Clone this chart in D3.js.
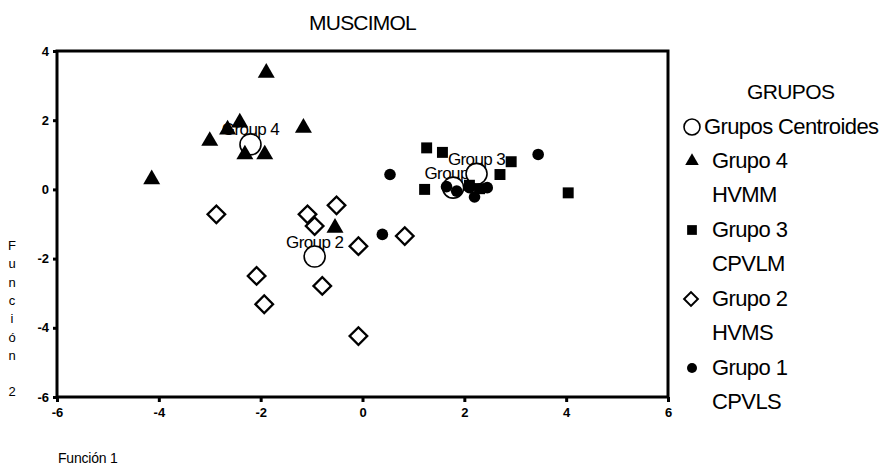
<!DOCTYPE html>
<html lang="es">
  <head>
    <meta charset="utf-8" />
    <title>MUSCIMOL</title>
    <script src="https://d3js.org/d3.v7.min.js"></script>
    <style>
      body {
        margin: 0;
        background: #fff;
      }
      text {
        font-family: "Liberation Sans", Arial, sans-serif;
        fill: #000;
      }
      .axis .domain {
        stroke-width: 0;
      }
      .axis .tick line {
        stroke: #000;
        stroke-width: 3;
      }
      .axis .tick text {
        font-size: 13px;
        font-weight: bold;
      }
    </style>
  </head>
  <body>
    <svg width="887" height="466"></svg>
    <script type="text/javascript">
      // values: [Función 1, Función 2]
      const grupo1 = [
        [0.54, 0.43], [3.45, 1.01], [0.39, -1.3], [1.65, 0.08],
        [2.1, 0.05], [2.2, -0.22], [2.45, 0.05], [1.85, -0.05],
      ];
      const grupo2 = [
        [-2.87, -0.72], [-1.08, -0.72], [-0.51, -0.46], [-0.94, -1.06],
        [-0.08, -1.64], [0.83, -1.35], [-2.08, -2.5], [-1.93, -3.32],
        [-0.79, -2.79], [-0.08, -4.24],
      ];
      const grupo3 = [
        [1.26, 1.2], [1.57, 1.07], [2.92, 0.8], [2.7, 0.43],
        [1.22, 0.0], [4.04, -0.1], [2.1, 0.12], [2.3, 0.02],
      ];
      const grupo4 = [
        [-1.89, 3.37], [-2.41, 1.93], [-2.65, 1.73], [-3.0, 1.4],
        [-1.16, 1.78], [-2.31, 1.01], [-1.92, 1.01], [-4.14, 0.29],
        [-0.54, -1.11],
      ];
      const centroidNames = ["Group 1", "Group 2", "Group 3", "Group 4"];
      const centroidX = [1.78, -0.94, 2.24, -2.2];
      const centroidY = [0.05, -1.94, 0.45, 1.3];

      const xTicks = [-6, -4, -2, 0, 2, 4, 6];
      const yTicks = [-6, -4, -2, 0, 2, 4];

      const legendTitle = "GRUPOS";
      const legendLines = [
        ["Grupos Centroides"],
        ["Grupo 4", "HVMM"],
        ["Grupo 3", "CPVLM"],
        ["Grupo 2", "HVMS"],
        ["Grupo 1", "CPVLS"],
      ];

      const svg = d3.select("svg");
      const margin = { top: 51, right: 219, bottom: 69, left: 57 };
      const width = 887;
      const height = 466;

      const x = d3
        .scaleLinear()
        .domain([-6, 6])
        .range([margin.left, width - margin.right]);
      const y = d3
        .scaleLinear()
        .domain([-6, 4])
        .range([height - margin.bottom, margin.top]);

      // title
      svg
        .append("text")
        .attr("x", x(0))
        .attr("y", 30)
        .attr("text-anchor", "middle")
        .attr("font-size", "21px")
        .attr("letter-spacing", "-0.8px")
        .text("MUSCIMOL");

      // axes
      svg
        .append("g")
        .attr("class", "axis")
        .attr("transform", `translate(0,${y(-6)})`)
        .call(
          d3.axisBottom(x).tickValues(xTicks).tickSize(5).tickPadding(6)
            .tickFormat((d) => String(d))
        );
      svg
        .append("g")
        .attr("class", "axis")
        .attr("transform", `translate(${x(-6)},0)`)
        .call(
          d3.axisLeft(y).tickValues(yTicks).tickSize(4).tickPadding(4)
            .tickFormat((d) => String(d))
        );

      // frame
      svg
        .append("rect")
        .attr("x", x(-6))
        .attr("y", y(4))
        .attr("width", x(6) - x(-6))
        .attr("height", y(-6) - y(4))
        .attr("fill", "none")
        .attr("stroke", "#000")
        .attr("stroke-width", 3);

      // stacked y title
      const yTitle = "Función 2".split("");
      svg
        .append("g")
        .selectAll("text")
        .data(yTitle)
        .join("text")
        .attr("x", 12)
        .attr("y", (d, i) => 250 + i * 18.3)
        .attr("text-anchor", "middle")
        .attr("font-size", "13px")
        .text((d) => d);

      svg
        .append("text")
        .attr("x", 58)
        .attr("y", 463)
        .attr("font-size", "14px")
        .attr("letter-spacing", "-0.2px")
        .text("Función 1");

      const tri = d3.symbol(d3.symbolTriangle, 125);
      const sq = d3.symbol(d3.symbolSquare, 120);
      const dia = d3.symbol(d3.symbolSquare, 155);

      // centroid labels
      svg
        .append("g")
        .selectAll("text")
        .data(centroidNames)
        .join("text")
        .attr("x", (d, i) => x(centroidX[i]))
        .attr("y", (d, i) => y(centroidY[i]) - 9)
        .attr("text-anchor", "middle")
        .attr("font-size", "17px")
        .attr("letter-spacing", "-0.6px")
        .text((d) => d);

      // centroids
      svg
        .append("g")
        .selectAll("circle")
        .data(centroidNames)
        .join("circle")
        .attr("cx", (d, i) => x(centroidX[i]))
        .attr("cy", (d, i) => y(centroidY[i]))
        .attr("r", 10.5)
        .attr("fill", "#fff")
        .attr("stroke", "#000")
        .attr("stroke-width", 1.6);

      // grupo 2 diamonds
      svg
        .append("g")
        .selectAll("path")
        .data(grupo2)
        .join("path")
        .attr("d", dia)
        .attr("transform", (d) => `translate(${x(d[0])},${y(d[1])}) rotate(45)`)
        .attr("fill", "#fff")
        .attr("stroke", "#000")
        .attr("stroke-width", 2.3);

      // grupo 4 triangles
      svg
        .append("g")
        .selectAll("path")
        .data(grupo4)
        .join("path")
        .attr("d", tri)
        .attr("transform", (d) => `translate(${x(d[0])},${y(d[1])})`)
        .attr("fill", "#000");

      // grupo 3 squares
      svg
        .append("g")
        .selectAll("path")
        .data(grupo3)
        .join("path")
        .attr("d", sq)
        .attr("transform", (d) => `translate(${x(d[0])},${y(d[1])})`)
        .attr("fill", "#000");

      // grupo 1 dots
      svg
        .append("g")
        .selectAll("circle")
        .data(grupo1)
        .join("circle")
        .attr("cx", (d) => x(d[0]))
        .attr("cy", (d) => y(d[1]))
        .attr("r", 5.8)
        .attr("fill", "#000");

      // legend
      const legend = svg.append("g");
      legend
        .append("text")
        .attr("x", 747)
        .attr("y", 99)
        .attr("font-size", "21px")
        .attr("letter-spacing", "-0.6px")
        .text(legendTitle);

      const itemY = (i) => (i === 0 ? 134 : 168 + (i - 1) * 69);
      legendLines.forEach((lines, i) => {
        lines.forEach((t, j) => {
          legend
            .append("text")
            .attr("x", i === 0 ? 704 : 712)
            .attr("y", itemY(i) + j * 34)
            .attr("font-size", "22px")
            .attr("letter-spacing", "-0.6px")
            .text(t);
        });
      });

      const symY = (i) => itemY(i) - 7;
      legend
        .append("circle")
        .attr("cx", 692)
        .attr("cy", symY(0))
        .attr("r", 8)
        .attr("fill", "#fff")
        .attr("stroke", "#000")
        .attr("stroke-width", 1.6);
      legend
        .append("path")
        .attr("d", d3.symbol(d3.symbolTriangle, 80))
        .attr("transform", `translate(692,${symY(1)})`);
      legend
        .append("path")
        .attr("d", d3.symbol(d3.symbolSquare, 95))
        .attr("transform", `translate(692,${symY(2)})`);
      legend
        .append("path")
        .attr("d", d3.symbol(d3.symbolSquare, 95))
        .attr("transform", `translate(691,${symY(3)}) rotate(45)`)
        .attr("fill", "#fff")
        .attr("stroke", "#000")
        .attr("stroke-width", 2);
      legend
        .append("circle")
        .attr("cx", 692)
        .attr("cy", symY(4))
        .attr("r", 5);
    </script>
  </body>
</html>
